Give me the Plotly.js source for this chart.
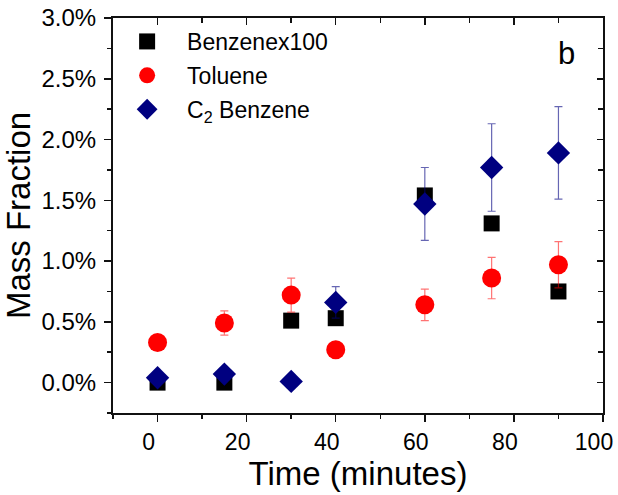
<!DOCTYPE html>
<html>
<head>
<meta charset="utf-8">
<script src="https://cdn.plot.ly/plotly-3.0.1.min.js"></script>
<style>
  html, body { margin: 0; padding: 0; background: #ffffff; }
  #chart { width: 618px; height: 495px; }
</style>
</head>
<body>
<div id="chart"></div>
<script>
// ---- data ----
const timeMinutes = [0, 15, 30, 40, 60, 75, 90];
const benzeneX100 = [0.0000, 0.0000, 0.0051, 0.0053, 0.0154, 0.0131, 0.0075];
const toluene     = [0.0033, 0.0049, 0.0072, 0.0027, 0.0064, 0.0086, 0.0097];
const tolueneErr  = [0, 0.0010, 0.0014, 0, 0.0013, 0.0017, 0.0019];
const c2Benzene   = [0.0004, 0.0007, 0.0001, 0.0066, 0.0147, 0.0177, 0.0189];
const c2BenzeneErr= [0, 0, 0, 0.0013, 0.0030, 0.0036, 0.0038];
const seriesNames = ["Benzenex100", "Toluene", "C<sub>2</sub> Benzene"];
const xRange = [-10, 100];
const yRange = [-0.0025, 0.03];

const FONT = "Liberation Sans, Arial, Helvetica, sans-serif";

const traces = [
  {
    x: timeMinutes, y: benzeneX100, name: seriesNames[0], type: "scatter", mode: "markers",
    legendgroup: "a",
    marker: { symbol: "square", size: 16, color: "#000000" }
  },
  {
    x: timeMinutes, y: toluene, name: seriesNames[1], type: "scatter", mode: "markers",
    legendgroup: "b",
    marker: { symbol: "circle", size: 19, color: "#ff0000" },
    error_y: { type: "data", array: tolueneErr, visible: true, color: "rgba(255,0,0,0.55)", thickness: 1.2, width: 4 }
  },
  {
    x: timeMinutes, y: c2Benzene, name: seriesNames[2], type: "scatter", mode: "markers",
    legendgroup: "c",
    marker: { symbol: "diamond", size: 18, color: "#000080" },
    error_y: { type: "data", array: c2BenzeneErr, visible: true, color: "rgba(0,0,128,0.6)", thickness: 1.2, width: 4 }
  },
  // invisible copies so that the top and right frame axes (inside ticks) get drawn
  {
    x: timeMinutes, y: benzeneX100, xaxis: "x2", yaxis: "y", type: "scatter", mode: "markers",
    marker: { opacity: 0, size: 1 }, showlegend: false, hoverinfo: "skip"
  },
  {
    x: timeMinutes, y: benzeneX100, xaxis: "x", yaxis: "y2", type: "scatter", mode: "markers",
    marker: { opacity: 0, size: 1 }, showlegend: false, hoverinfo: "skip"
  }
];

const axisCommon = {
  showgrid: false, zeroline: false, showline: true, linecolor: "#111111", linewidth: 2,
  tickcolor: "#111111", tickwidth: 1.5
};

const layout = {
  width: 618, height: 495,
  margin: { l: 113, r: 15, t: 18, b: 82, pad: 0 },
  paper_bgcolor: "#ffffff", plot_bgcolor: "#ffffff",
  font: { family: FONT, color: "#000000" },
  showlegend: true,
  legend: {
    x: -0.012, y: 0.995, xanchor: "left", yanchor: "top",
    bgcolor: "rgba(0,0,0,0)", borderwidth: 0,
    font: { family: FONT, size: 23, color: "#000000" },
    itemwidth: 70, traceorder: "grouped", tracegroupgap: 1
  },
  xaxis: Object.assign({}, axisCommon, {
    range: xRange, tick0: 0, dtick: 20, ticks: "outside", ticklen: 7,
    minor: { dtick: 10, ticks: "outside", ticklen: 4, tickwidth: 1.5, tickcolor: "#111111" },
    tickfont: { family: FONT, size: 23, color: "#000000" },
    ticklabelshift: -9,
    title: { text: "Time (minutes)", font: { family: FONT, size: 33, color: "#000000" }, standoff: 6 }
  }),
  yaxis: Object.assign({}, axisCommon, {
    range: yRange, tick0: 0, dtick: 0.005, tickformat: ".1%", ticks: "outside", ticklen: 7,
    minor: { dtick: 0.0025, ticks: "outside", ticklen: 4, tickwidth: 1.5, tickcolor: "#111111" },
    tickfont: { family: FONT, size: 24, color: "#000000" },
    ticklabelstandoff: 3,
    title: { text: "Mass Fraction", font: { family: FONT, size: 33, color: "#000000" }, standoff: 2 }
  }),
  xaxis2: Object.assign({}, axisCommon, {
    overlaying: "x", side: "top", range: xRange, tick0: 0, dtick: 20,
    ticks: "inside", ticklen: 7, showticklabels: false,
    minor: { dtick: 10, ticks: "inside", ticklen: 5, tickwidth: 1.5, tickcolor: "#111111" }
  }),
  yaxis2: Object.assign({}, axisCommon, {
    overlaying: "y", side: "right", range: yRange, tick0: 0, dtick: 0.005,
    ticks: "inside", ticklen: 6, showticklabels: false,
    minor: { dtick: 0.0025, ticks: "inside", ticklen: 5, tickwidth: 1.5, tickcolor: "#111111" }
  }),
  annotations: [
    { text: "b", xref: "paper", yref: "paper", x: 0.926, y: 0.91, xanchor: "center", yanchor: "middle",
      showarrow: false, font: { family: FONT, size: 31, color: "#000000" } }
  ]
};

Plotly.newPlot("chart", traces, layout, { displayModeBar: false, staticPlot: true });
</script>
</body>
</html>
